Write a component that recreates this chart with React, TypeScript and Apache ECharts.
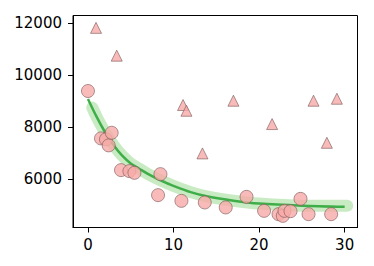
import React, { useEffect, useRef } from "react";
import * as echarts from "echarts";

// Observed (circle) points
const circleX = [0, 1.52, 2.1, 2.42, 2.77, 3.86, 4.84, 5.43, 8.19, 8.47, 10.92, 13.65, 16.1, 18.53, 20.58, 22.27, 22.77, 22.97, 23.67, 24.84, 25.78, 28.42];
const circleY = [9385, 7565, 7527, 7296, 7781, 6346, 6308, 6242, 5385, 6192, 5165, 5104, 4912, 5319, 4781, 4654, 4589, 4781, 4769, 5242, 4654, 4654];

// Outlier (triangle) points
const triX = [0.94, 3.36, 11.11, 11.51, 13.38, 17.0, 21.52, 26.36, 27.92, 29.09];
const triY = [11810, 10742, 8846, 8627, 6988, 9012, 8115, 9012, 7396, 9088];

// Fitted curve
const fitX = [0, 1, 2, 3, 4, 5, 6, 7, 8, 9, 10, 12, 14, 17, 20, 25, 30];
const fitY = [9080, 8400, 7800, 7300, 6900, 6600, 6400, 6200, 6030, 5880, 5740, 5500, 5330, 5170, 5060, 4980, 4940];

// Light green band (samples) along the curve
const bandX = [0.5, 1, 2, 3, 4, 5, 6, 7, 8, 9, 10, 12, 14, 17, 20, 25, 30.3];
const bandY = [8750, 8400, 7800, 7300, 6900, 6600, 6400, 6200, 6030, 5880, 5740, 5500, 5330, 5170, 5060, 4980, 4980];

const xTicks = [0, 10, 20, 30];
const yTicks = [6000, 8000, 10000, 12000];

const font = "DejaVu Sans";

export default function App() {
  const ref = useRef<HTMLDivElement>(null);
  useEffect(() => {
    if (!ref.current) return;
    const chart = echarts.init(ref.current, null, { renderer: "svg" });
    const pair = (xs: number[], ys: number[]) => xs.map((x, i) => [x, ys[i]]);
    const fmt = (v: number) => String(v);
    chart.setOption({
      animation: false,
      grid: {
        left: 73,
        right: 16.5,
        top: 15.5,
        bottom: 38.5,
        show: true,
        borderColor: "#000",
        borderWidth: 1,
        backgroundColor: "transparent",
      },
      xAxis: {
        type: "value",
        min: -1.75,
        max: 31.5,
        splitLine: { show: false },
        axisLine: { show: true, onZero: false, lineStyle: { color: "#000", width: 1 } },
        axisTick: { show: true, inside: false, length: 5, lineStyle: { color: "#000" }, customValues: xTicks },
        axisLabel: {
          customValues: xTicks,
          formatter: fmt,
          color: "#000",
          fontSize: 15,
          fontFamily: font,
          margin: 10,
        },
      },
      yAxis: {
        type: "value",
        min: 4142,
        max: 12285,
        splitLine: { show: false },
        axisLine: { show: true, onZero: false, lineStyle: { color: "#000", width: 1 } },
        axisTick: { show: true, inside: false, length: 5, lineStyle: { color: "#000" }, customValues: yTicks },
        axisLabel: {
          customValues: yTicks,
          formatter: fmt,
          color: "#000",
          fontSize: 15,
          fontFamily: font,
          margin: 11,
        },
      },
      series: [
        {
          type: "line",
          data: pair(bandX, bandY),
          smooth: 0.3,
          symbol: "none",
          lineStyle: { color: "#c9ebc3", width: 12, cap: "round", join: "round" },
          z: 1,
        },
        {
          type: "line",
          data: pair(fitX, fitY),
          smooth: 0.3,
          symbol: "none",
          lineStyle: { color: "#3fae49", width: 2.5 },
          z: 2,
        },
        {
          type: "scatter",
          data: pair(circleX, circleY),
          symbol: "circle",
          symbolSize: 13,
          itemStyle: { color: "#f7aaa8", borderColor: "#7d5b5b", borderWidth: 0.8 },
          z: 3,
        },
        {
          type: "scatter",
          data: pair(triX, triY),
          symbol: "triangle",
          symbolSize: [11, 11],
          itemStyle: { color: "#f7aaa8", borderColor: "#7d5b5b", borderWidth: 0.8 },
          z: 4,
        },
      ],
    });
    return () => chart.dispose();
  }, []);
  return <div ref={ref} style={{ width: 374, height: 266, margin: -8 }} />;
}
